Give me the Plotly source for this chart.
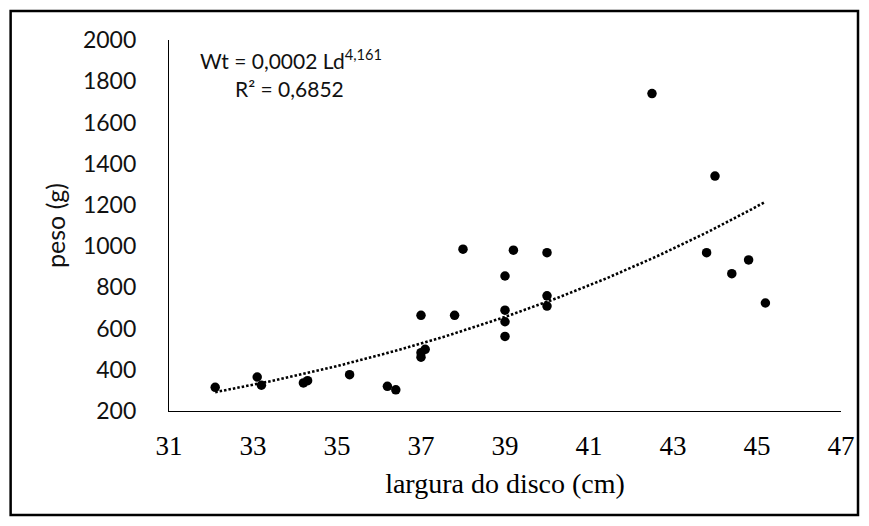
import numpy as np
import plotly.graph_objects as go

# Disc width (cm) and body weight (g) of each specimen
largura = [32.1, 33.1, 33.2, 34.2, 34.3, 35.3, 36.2, 36.4,
           37.0, 37.8, 37.1, 37.0, 37.0,
           38.0, 39.2, 40.0, 39.0, 40.0, 40.0, 39.0, 39.0, 39.0,
           42.5, 44.0, 43.8, 44.8, 44.4, 45.2]
peso = [315, 365, 325, 336, 347, 376, 320, 303,
        664, 664, 499, 483, 461,
        985, 980, 968, 855, 759, 709, 689, 633, 562,
        1740, 1340, 968, 933, 866, 724]

x_ticks = [31, 33, 35, 37, 39, 41, 43, 45, 47]
y_ticks = [200, 400, 600, 800, 1000, 1200, 1400, 1600, 1800, 2000]

# Power trendline Wt = a * Ld^b, fitted by least squares in log-log space
b, ln_a = np.polyfit(np.log(largura), np.log(peso), 1)
x_fit = np.linspace(min(largura), max(largura), 120)
y_fit = np.exp(ln_a) * x_fit ** b

W, H = 869, 526
L, R, T, B = 169.3, 28, 40, 115
pw, ph = W - L - R, H - T - B

fig = go.Figure()
fig.add_trace(go.Scatter(
    x=x_fit, y=y_fit, mode="lines",
    line=dict(color="black", width=2.6, dash="2.5px,2px"),
    hoverinfo="skip", showlegend=False,
))
fig.add_trace(go.Scatter(
    x=largura, y=peso, mode="markers",
    marker=dict(color="black", size=9.5, line=dict(width=0)),
    showlegend=False,
))

sans = "Lato, 'Open Sans', sans-serif"
serif = "'Liberation Serif', 'Times New Roman', serif"

fig.update_xaxes(
    range=[31, 47], tickvals=x_ticks, ticktext=[str(v) for v in x_ticks],
    showline=True, linecolor="black", linewidth=1.2, showgrid=False,
    zeroline=False, ticks="", ticklabelstandoff=10,
    tickfont=dict(family=serif, size=27, color="black"),
    title=dict(text="largura do disco (cm)", standoff=13,
               font=dict(family=serif, size=28, color="black")),
)
fig.update_yaxes(
    range=[200, 2000], tickvals=y_ticks, ticktext=[str(v) for v in y_ticks],
    showline=True, linecolor="black", linewidth=1.2, showgrid=False,
    zeroline=False, ticks="", ticklabelstandoff=27,
    tickfont=dict(family=sans, size=23, color="#111111"),
    title=dict(text="peso (g)", standoff=10,
               font=dict(family=sans, size=25, color="#111111")),
)

fig.add_annotation(
    xref="paper", yref="paper", x=(291 - L) / pw, y=(H - B - 59) / ph,
    text="Wt = 0,0002 Ld<sup>4,161</sup>", showarrow=False,
    font=dict(family=sans, size=21, color="#111111"), xanchor="center", yanchor="middle",
)
fig.add_annotation(
    xref="paper", yref="paper", x=(290 - L) / pw, y=(H - B - 88) / ph,
    text="R² = 0,6852", showarrow=False,
    font=dict(family=sans, size=21, color="#111111"), xanchor="center", yanchor="middle",
)

# Frame around the whole chart area
fx0, fx1, fy_top, fy_bot = 11, 858, 11, 515
fig.add_shape(
    type="rect", xref="paper", yref="paper", layer="above",
    x0=(fx0 - L) / pw, x1=(fx1 - L) / pw,
    y0=(H - B - fy_bot) / ph, y1=(H - B - fy_top) / ph,
    line=dict(color="black", width=2.5), fillcolor="rgba(0,0,0,0)",
)

fig.update_layout(
    width=W, height=H, autosize=False,
    margin=dict(l=L, r=R, t=T, b=B, autoexpand=False),
    paper_bgcolor="white", plot_bgcolor="white",
)

fig.write_html("out.html")
